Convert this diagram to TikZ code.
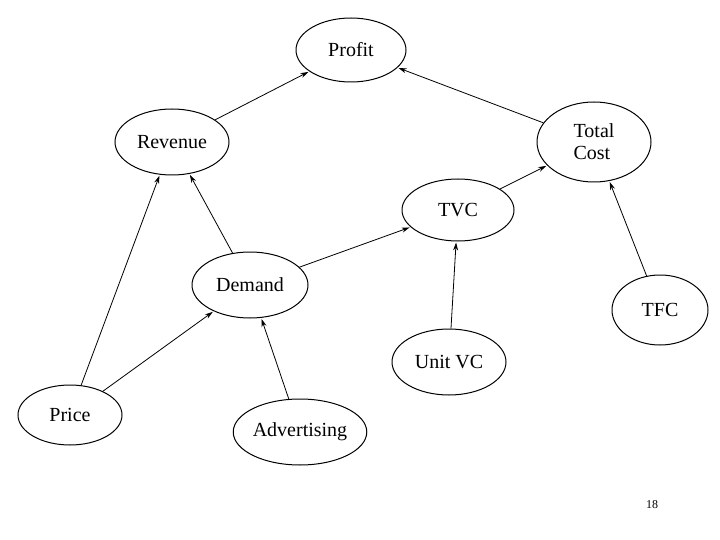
\documentclass[tikz,border=0pt]{standalone}
\usepackage{fontspec}
\setmainfont{Liberation Serif}
\usetikzlibrary{shapes.geometric,arrows.meta}
\begin{document}
\begin{tikzpicture}[x=1pt,y=-1pt,
  ell/.style={draw,ellipse,line width=1pt,inner sep=0pt,font=\fontsize{20}{22}\selectfont},
  arr/.style={-{Stealth[length=8pt,width=5pt]},line width=0.8pt,shorten >=1pt}]
\useasboundingbox (0,0) rectangle (720,540);
\node[ell,minimum width=110,minimum height=64] (profit) at (351,50) {Profit};
\node[ell,minimum width=114,minimum height=66] (rev) at (172,142) {Revenue};
\node[ell,minimum width=114,minimum height=80,align=left] (tc) at (594,142) {Total\\Cost};
\node[ell,minimum width=112,minimum height=62] (tvc) at (458,210) {TVC};
\node[ell,minimum width=116,minimum height=66] (dem) at (250,285) {Demand};
\node[ell,minimum width=96,minimum height=70] (tfc) at (660,310) {TFC};
\node[ell,minimum width=114,minimum height=66] (uvc) at (449,362) {Unit VC};
\node[ell,minimum width=104,minimum height=60] (price) at (70,415) {Price};
\node[ell,minimum width=126,minimum height=66] (adv) at (300,432) {Advertising};
\node[font=\fontsize{12}{14}\selectfont] (pg) at (652,505) {18};
\draw[arr] (rev) -- (profit);
\draw[arr] (tc) -- (profit);
\draw[arr] (tvc) -- (tc);
\draw[arr] (dem) -- (rev);
\draw[arr] (dem) -- (tvc);
\draw[arr] (tfc) -- (tc);
\draw[arr] (uvc) -- (tvc);
\draw[arr] (price) -- (rev);
\draw[arr] (price) -- (dem);
\draw[arr] (adv) -- (dem);
\end{tikzpicture}
\end{document}
